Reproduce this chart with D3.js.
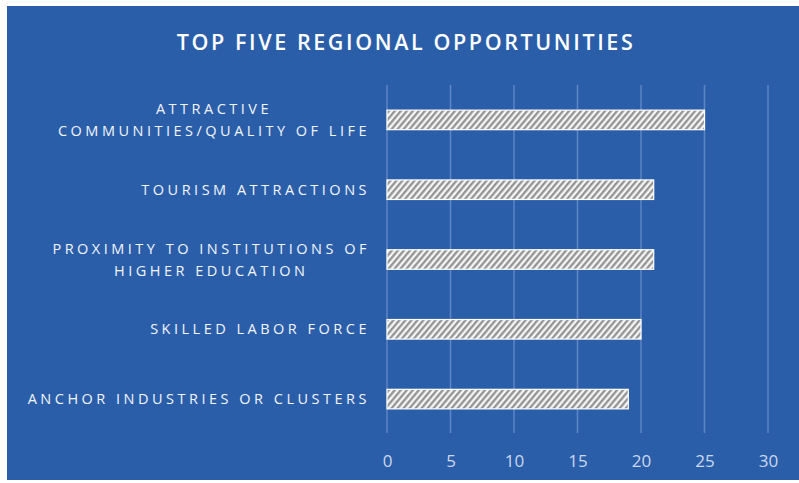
<!DOCTYPE html>
<html><head><meta charset="utf-8">
<script src="https://cdn.jsdelivr.net/npm/d3@7"></script>
<style>html,body{margin:0;padding:0;background:#fff;}svg{display:block;}</style>
</head><body>
<svg id="c" width="799" height="483"></svg>
<script>
const categories = [
  ["ATTRACTIVE", "COMMUNITIES/QUALITY OF LIFE"],
  ["TOURISM ATTRACTIONS"],
  ["PROXIMITY TO INSTITUTIONS OF", "HIGHER EDUCATION"],
  ["SKILLED LABOR FORCE"],
  ["ANCHOR INDUSTRIES OR CLUSTERS"]
];
const values = [25, 21, 21, 20, 19];
const tickValues = [0, 5, 10, 15, 20, 25, 30];
const title = "TOP FIVE REGIONAL OPPORTUNITIES";

const svg = d3.select("#c");
svg.append("rect").attr("x", 7).attr("y", 6).attr("width", 792).attr("height", 474).attr("fill", "#2b5ea9");

const defs = svg.append("defs");
const pat = defs.append("pattern").attr("id", "hatch").attr("patternUnits", "userSpaceOnUse")
  .attr("width", 4.6).attr("height", 4.6).attr("patternTransform", "rotate(40)");
pat.append("rect").attr("width", 4.6).attr("height", 4.6).attr("fill", "#f6f6f6");
pat.append("line").attr("x1", 1.2).attr("y1", 0).attr("x2", 1.2).attr("y2", 4.6)
  .attr("stroke", "#8f8f8f").attr("stroke-width", 2.2);

const x = d3.scaleLinear().domain([0, 30]).range([387, 768]);
const y = d3.scaleBand().domain(d3.range(categories.length)).range([85, 434]).paddingInner(0.72).paddingOuter(0.36);

// gridlines
svg.append("g").selectAll("line").data(tickValues).join("line")
  .attr("x1", d => x(d)).attr("x2", d => x(d)).attr("y1", 85).attr("y2", 433)
  .attr("stroke", "#5c86c6").attr("stroke-width", 1.5);

// x axis labels
const ax = svg.append("g").attr("transform", "translate(0,467)")
  .call(d3.axisBottom(x).tickValues(tickValues).tickSize(0).tickPadding(0));
ax.select(".domain").remove();
ax.selectAll("text").attr("fill", "#c9d8f0").attr("font-size", 17)
  .attr("font-family", "'Open Sans', sans-serif").attr("dy", 0);

// bars
svg.append("g").selectAll("rect").data(values).join("rect")
  .attr("x", x(0)).attr("y", (d, i) => y(i)).attr("width", d => x(d) - x(0)).attr("height", y.bandwidth())
  .attr("fill", "url(#hatch)").attr("stroke", "#ffffff").attr("stroke-width", 1.2);

// category labels
const lg = svg.append("g").attr("font-family", "'Open Sans', sans-serif").attr("font-size", 14.5)
  .attr("fill", "#f2f5fb").attr("letter-spacing", 3.5);
categories.forEach((lines, i) => {
  const cy = y(i) + y.bandwidth() / 2;
  const lh = 22;
  const g = lg.append("g");
  const texts = lines.map((l, j) => g.append("text").text(l)
    .attr("y", cy + (j - (lines.length - 1) / 2) * lh + 5));
  const widths = texts.map(t => t.node().getComputedTextLength());
  const maxW = d3.max(widths);
  const right = 370;
  const center = right - maxW / 2;
  texts.forEach(t => t.attr("x", center).attr("text-anchor", "middle"));
});

// title
svg.append("text").attr("x", 406).attr("y", 50).attr("text-anchor", "middle")
  .attr("font-family", "'Open Sans', sans-serif").attr("font-size", 21.5).attr("font-weight", 600)
  .attr("letter-spacing", 2.6).attr("fill", "#ffffff").text(title);
</script>
</body></html>
